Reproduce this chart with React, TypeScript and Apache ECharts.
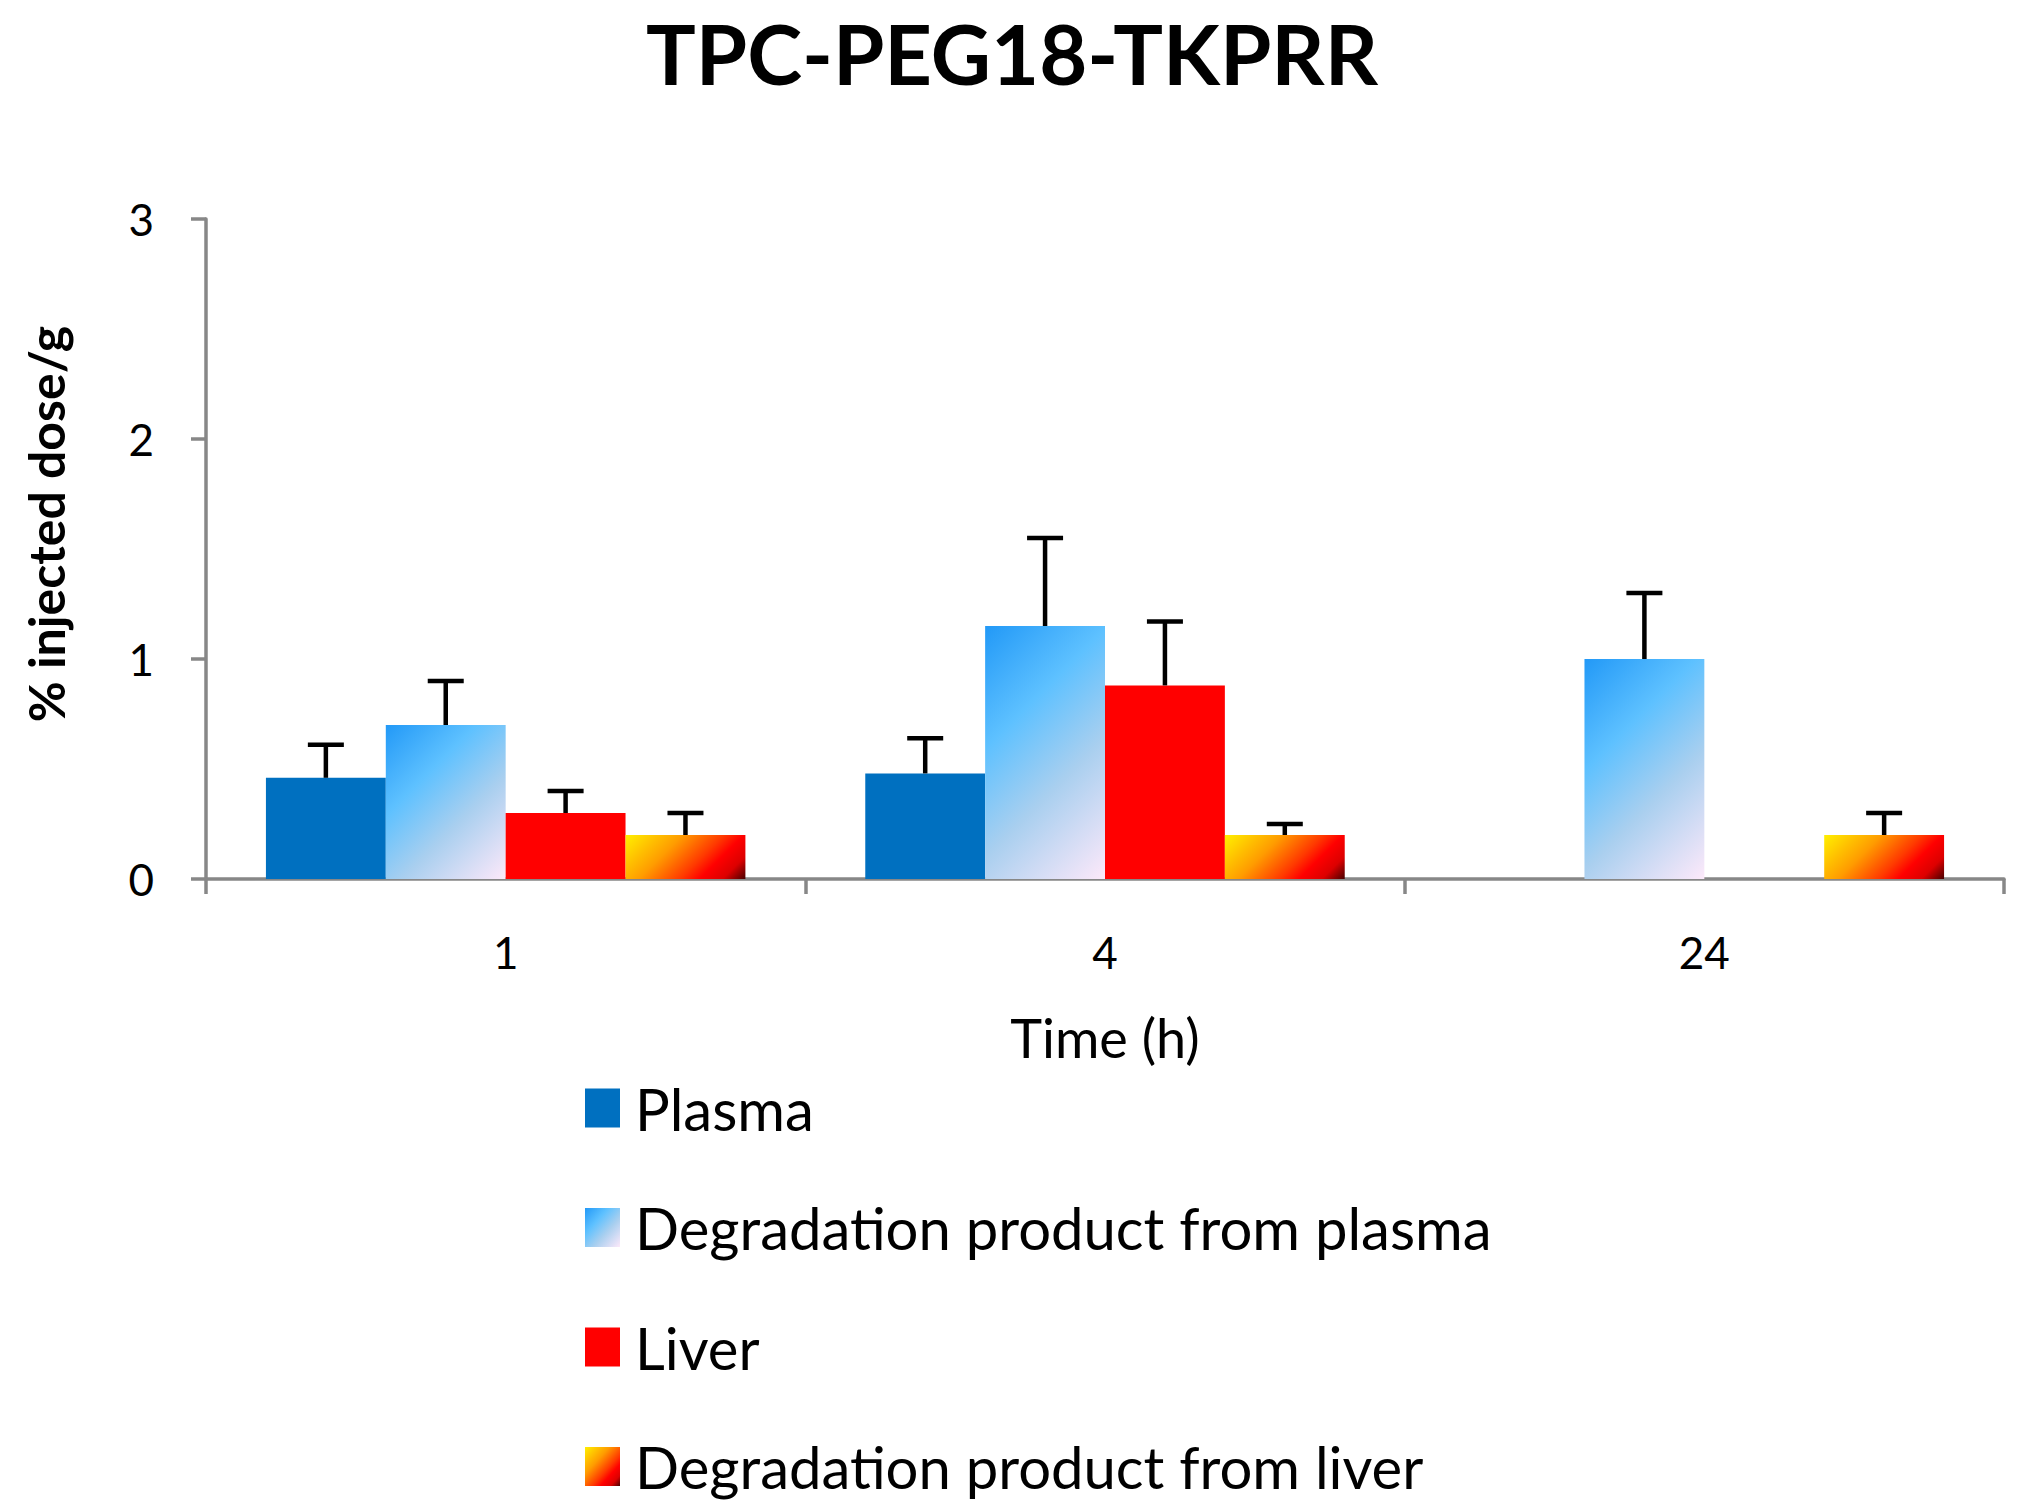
import React, { useEffect, useRef } from "react";
import * as echarts from "echarts";

const title = "TPC-PEG18-TKPRR";
const yAxisTitle = "% injected dose/g";
const xAxisTitle = "Time (h)";
const categories = ["1", "4", "24"];
const yTicks = [0, 1, 2, 3];
const seriesNames = [
  "Plasma",
  "Degradation product from plasma",
  "Liver",
  "Degradation product from liver",
];
const plasma = [0.46, 0.48, null];
const plasmaErr = [0.15, 0.16, null];
const degPlasma = [0.7, 1.15, 1.0];
const degPlasmaErr = [0.2, 0.4, 0.3];
const liver = [0.3, 0.88, null];
const liverErr = [0.1, 0.29, null];
const degLiver = [0.2, 0.2, 0.2];
const degLiverErr = [0.1, 0.05, 0.1];

const W = 2024;
const H = 1510;
const GRID = { left: 206, right: 20, top: 219, bottom: 631 };
const BAR_CAT_GAP = 0.2;
const FONT = "Lato, 'Open Sans', sans-serif";

const blueStops = [
  { offset: 0, color: "#2299f7" },
  { offset: 0.33, color: "#5ec1ff" },
  { offset: 0.62, color: "#a9cfef" },
  { offset: 1, color: "#fde9fa" },
];
const fireStops = [
  { offset: 0, color: "#fff000" },
  { offset: 0.35, color: "#ff9c00" },
  { offset: 0.6, color: "#ff3a00" },
  { offset: 0.72, color: "#ff0000" },
  { offset: 0.86, color: "#dd0000" },
  { offset: 1, color: "#480000" },
];

function grad(stops: any[], x2 = 1, y2 = 1) {
  return new echarts.graphic.LinearGradient(0, 0, x2, y2, stops);
}

export default function App() {
  const ref = useRef<HTMLDivElement>(null);
  useEffect(() => {
    document.body.style.margin = "0";
    const chart = echarts.init(ref.current!, null, { renderer: "svg" });

    const plotH = H - GRID.top - GRID.bottom;
    const unitPx = plotH / (yTicks[yTicks.length - 1] - yTicks[0]);
    const bandW = (W - GRID.left - GRID.right) / categories.length;
    const barW = (bandW * (1 - BAR_CAT_GAP)) / seriesNames.length;

    // 45-degree gradient in pixel space (SVG objectBoundingBox units)
    const diagData = (vals: (number | null)[], stops: any[]) =>
      vals.map((v) => {
        if (v == null) return null;
        const r = (v * unitPx) / barW;
        const t = (1 + r) / (1 + r * r);
        return {
          value: v,
          itemStyle: { color: grad(stops, t, r * t) },
        };
      });

    const values = [plasma, degPlasma, liver, degLiver];
    const errs = [plasmaErr, degPlasmaErr, liverErr, degLiverErr];

    const barSeries: any[] = [
      {
        name: seriesNames[0],
        type: "bar",
        data: plasma,
        itemStyle: { color: "#0070c0" },
      },
      {
        name: seriesNames[1],
        type: "bar",
        data: diagData(degPlasma, blueStops),
        itemStyle: { color: grad(blueStops) },
      },
      {
        name: seriesNames[2],
        type: "bar",
        data: liver,
        itemStyle: { color: "#ff0000" },
      },
      {
        name: seriesNames[3],
        type: "bar",
        data: diagData(degLiver, fireStops),
        itemStyle: { color: grad(fireStops) },
      },
    ].map((s) => ({
      ...s,
      barGap: "0%",
      barCategoryGap: BAR_CAT_GAP * 100 + "%",
      z: 2,
    }));

    const errSeries = values.map((vals, k) => ({
      name: "err" + k,
      type: "custom",
      z: 5,
      silent: true,
      data: vals
        .map((v, i) => (v == null || errs[k][i] == null ? null : [i, v, v + (errs[k][i] as number)]))
        .filter((d) => d !== null),
      renderItem: (params: any, api: any) => {
        const ci = api.value(0);
        const base = api.coord([ci, api.value(1)]);
        const top = api.coord([ci, api.value(2)]);
        const band = api.size([1, 0])[0];
        const bw = (band * (1 - BAR_CAT_GAP)) / 4;
        const x = base[0] + (k - 1.5) * bw;
        const style = { stroke: "#000", lineWidth: 4.5 };
        return {
          type: "group",
          children: [
            { type: "line", shape: { x1: x, y1: base[1], x2: x, y2: top[1] }, style },
            { type: "line", shape: { x1: x - 18, y1: top[1], x2: x + 18, y2: top[1] }, style },
          ],
        };
      },
    }));

    chart.setOption({
      animation: false,
      backgroundColor: "#ffffff",
      title: {
        text: title,
        left: "center",
        top: 6,
        textStyle: { fontFamily: FONT, fontWeight: "bold", fontSize: 83, color: "#000" },
      },
      graphic: [
        {
          type: "text",
          x: 46,
          y: 524,
          rotation: Math.PI / 2,
          style: {
            text: yAxisTitle,
            fontFamily: FONT,
            fontWeight: "bold",
            fontSize: 50,
            fill: "#000",
            align: "center",
            verticalAlign: "middle",
          },
        },
      ],
      grid: GRID,
      legend: {
        data: seriesNames,
        orient: "vertical",
        left: 580,
        top: 1073,
        itemWidth: 35,
        itemHeight: 39,
        itemGap: 59.5,
        icon: "rect",
        selectedMode: false,
        textStyle: {
          fontFamily: FONT,
          fontSize: 58,
          color: "#000",
          lineHeight: 60,
          padding: [0, 0, 0, 10],
        },
      },
      xAxis: {
        type: "category",
        data: categories,
        name: xAxisTitle,
        nameLocation: "middle",
        nameGap: 131,
        nameTextStyle: { fontFamily: FONT, fontSize: 54, color: "#000" },
        axisLine: { lineStyle: { color: "#878787", width: 3.5 } },
        axisTick: { show: true, length: 15, lineStyle: { color: "#878787", width: 3.5 } },
        axisLabel: { fontFamily: FONT, fontSize: 44, color: "#000", margin: 51 },
      },
      yAxis: {
        type: "value",
        min: 0,
        max: 3,
        interval: 1,
        splitLine: { show: false },
        axisLine: { show: true, lineStyle: { color: "#878787", width: 3.5 } },
        axisTick: { show: true, length: 15, lineStyle: { color: "#878787", width: 3.5 } },
        axisLabel: { fontFamily: FONT, fontSize: 44, color: "#000", margin: 52 },
      },
      series: [...barSeries, ...errSeries],
    });
    return () => chart.dispose();
  }, []);
  return (
    <div
      ref={ref}
      style={{ position: "absolute", left: 0, top: 0, width: W, height: H }}
    />
  );
}
